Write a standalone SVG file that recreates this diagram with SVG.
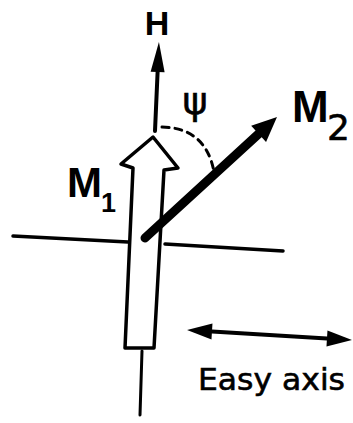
<svg xmlns="http://www.w3.org/2000/svg" width="353" height="423" viewBox="0 0 353 423">
<style>
.ln{fill:none;stroke:#000;stroke-linecap:round;stroke-linejoin:round}
.lbl{font-family:"Liberation Sans",Arial,sans-serif;font-weight:bold;fill:#000}
.txt{font-family:"DejaVu Sans",sans-serif;fill:#000;stroke:#000;stroke-width:0.6}
</style>
<defs>
<marker id="hH" markerUnits="userSpaceOnUse" markerWidth="32" markerHeight="16" refX="0" refY="8" orient="auto" overflow="visible"><path d="M0,1 L30,8 L0,15 Z" fill="#000"/></marker>
<marker id="hM" markerUnits="userSpaceOnUse" markerWidth="28" markerHeight="24" refX="0" refY="12" orient="auto" overflow="visible"><path d="M0,1 L25,12 L0,23 Z" fill="#000"/></marker>
<marker id="hE" markerUnits="userSpaceOnUse" markerWidth="28" markerHeight="18" refX="0" refY="9" orient="auto-start-reverse" overflow="visible"><path d="M0,1 L25,9 L0,17 Z" fill="#000"/></marker>
</defs>
<rect width="353" height="423" fill="#fff"/>
<g id="connectors">
<path class="ln" d="M13,236 L128,242" stroke-width="3.5"/>
<path class="ln" d="M165,244 L283,251" stroke-width="3.5"/>
<path class="ln" d="M142,351 L140,415" stroke-width="3"/>
<path class="ln" d="M155,131 L157.6,72" stroke-width="4" stroke-linecap="butt" marker-end="url(#hH)"/>
<path class="ln" d="M162,127 Q206,128 214,172" stroke-width="3" stroke-dasharray="7,6" stroke-linecap="butt"/>
</g>
<g id="M1">
<path class="ln" d="M153,137 L121,164 L133,168 L125,348 L154,348 L164,170 L178,168 Z" stroke-width="3.5" fill="#fff"/>
<text class="lbl" x="67" y="197" font-size="42">M</text>
<text class="lbl" x="101" y="212" font-size="27">1</text>
</g>
<g id="M2">
<path class="ln" d="M145,238 L258.6,133.9" stroke-width="9" stroke-linecap="round" marker-end="url(#hM)"/>
<text class="lbl" x="292" y="122" font-size="44">M</text>
<text class="txt" x="327" y="140" font-size="36">2</text>
</g>
<g id="H">
<text class="lbl" x="157" y="35" font-size="34" text-anchor="middle">H</text>
</g>
<g id="psi">
<text class="txt" x="195" y="114" font-size="38" text-anchor="middle">ψ</text>
</g>
<g id="easy-axis">
<path class="ln" d="M212,331.5 L327,338.5" stroke-width="4" stroke-linecap="butt" marker-start="url(#hE)" marker-end="url(#hE)"/>
<text class="txt" x="198" y="390" font-size="30" textLength="147" lengthAdjust="spacingAndGlyphs">Easy axis</text>
</g>
</svg>
